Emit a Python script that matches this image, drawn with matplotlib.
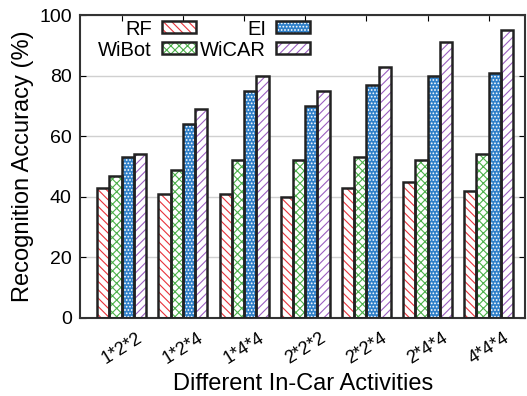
import numpy as np
import matplotlib

matplotlib.use('Agg')
import matplotlib.pyplot as plt
import matplotlib.patches as mpatches

plt.rcParams['font.family'] = ['Liberation Sans', 'DejaVu Sans']
plt.rcParams['hatch.linewidth'] = 0.8

# ===================== 数据 =====================
activities = ['1*2*2', '1*2*4', '1*4*4', '2*2*2', '2*2*4', '2*4*4', '4*4*4']
rf = [43, 41, 41, 40, 43, 45, 42]
wibot = [47, 49, 52, 52, 53, 52, 54]
ei = [53, 64, 75, 70, 77, 80, 81]
wicar = [54, 69, 80, 75, 83, 91, 95]

# 名称, 数值, 阴影颜色, 阴影样式, 底色
series = [
    ('RF', rf, '#e8333a', '\\\\\\\\', 'white'),
    ('WiBot', wibot, '#4cb04a', 'xxxx', 'white'),
    ('EI', ei, 'white', '.....', '#2f7fc8'),
    ('WiCAR', wicar, '#9b5fc0', '////', 'white'),
]

fig, ax = plt.subplots(figsize=(5.27, 3.96), dpi=100)
fig.subplots_adjust(left=0.152, right=0.997, top=0.962, bottom=0.197)

x = np.arange(len(activities))
w = 0.2
handles = []
for i, (name, vals, col, hatch, face) in enumerate(series):
    pos = x + (i - 1.5) * w
    # 填充与阴影线
    ax.bar(pos, vals, w, facecolor=face, edgecolor=col, hatch=hatch, linewidth=0, zorder=2)
    # 黑色外框
    ax.bar(pos, vals, w, facecolor='none', edgecolor='#222222', linewidth=1.8, zorder=3)
    fill = mpatches.Patch(facecolor=face, edgecolor=col, hatch=hatch, linewidth=0)
    frame = mpatches.Patch(facecolor='none', edgecolor='#222222', linewidth=1.8)
    handles.append((fill, frame))

# 图例: 两列, 文字在左
ax.legend(handles, [s[0] for s in series], loc='upper left', ncol=2, markerfirst=False,
          frameon=False, fontsize=14.5, handlelength=1.7, handleheight=0.55,
          columnspacing=0.2, handletextpad=0.5, labelspacing=0.1,
          bbox_to_anchor=(0.0, 1.045))

ax.set_ylim(0, 100)
ax.set_xlim(-0.68, 6.6)
ax.set_yticks([0, 20, 40, 60, 80, 100])
ax.set_xticks(x)
ax.set_xticklabels(activities, rotation=32, fontsize=13)
ax.tick_params(axis='y', labelsize=14, direction='in', right=True, length=4, pad=6)
ax.tick_params(axis='x', direction='in', top=True, length=4, pad=8)
ax.yaxis.grid(True, color='#d0d0d0', linewidth=1, zorder=0)
ax.set_axisbelow(True)
for s in ax.spines.values():
    s.set_linewidth(1.5)
    s.set_color('#333333')

ax.set_ylabel('Recognition Accuracy (%)', fontsize=17, labelpad=4)
ax.set_xlabel('Different In-Car Activities', fontsize=17, labelpad=4)

plt.savefig('out.png', dpi=100)
